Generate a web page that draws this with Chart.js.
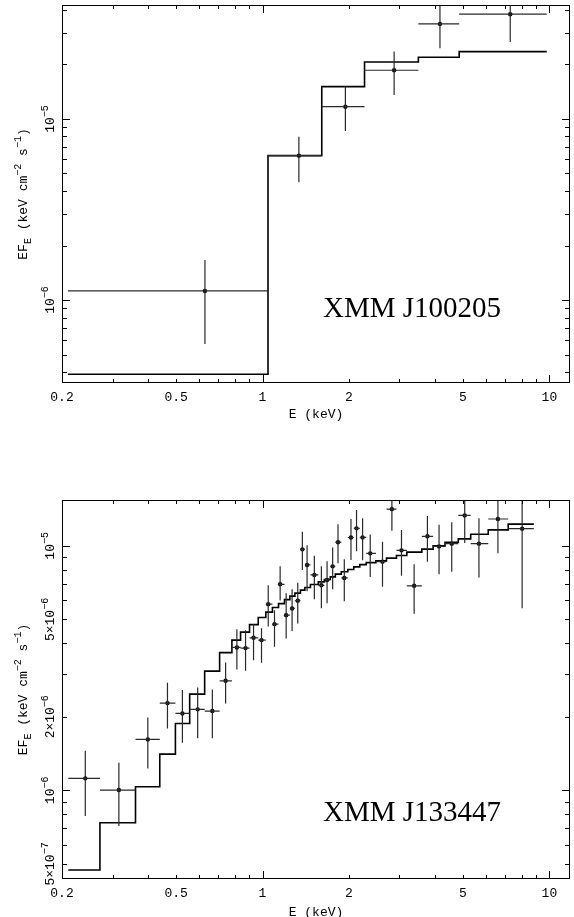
<!DOCTYPE html>
<html>
<head>
<meta charset="utf-8">
<title>XMM spectra</title>
<script src="https://cdn.jsdelivr.net/npm/chart.js@4.4.1/dist/chart.umd.min.js"></script>
<style>
  html, body { margin: 0; padding: 0; background: #fff; }
  #wrap { position: relative; width: 574px; height: 917px; overflow: hidden; }
  canvas { position: absolute; left: 0; }
</style>
</head>
<body>
<div id="wrap">
  <canvas id="topChart" width="574" height="460" style="top:0px"></canvas>
  <canvas id="botChart" width="574" height="457" style="top:460px"></canvas>
</div>
<script>
// ---- shared axis ticks (keV) ----
const xTicks = [0.3, 0.4, 0.5, 0.6, 0.7, 0.8, 0.9, 1, 2, 3, 4, 5, 6, 7, 8, 9, 10];
const xLabelVals = [0.2, 0.5, 1, 2, 5, 10];
const xLabelText = ['0.2', '0.5', '1', '2', '5', '10'];

// ---- XMM J100205 ----
const topEdges = [0.2097, 1.045, 1.609, 2.268, 3.494, 4.848, 9.79];
const topE = [0.630, 1.339, 1.945, 2.876, 4.155, 7.304];
const topFlux = [1.122e-6, 6.27e-6, 1.169e-5, 1.858e-5, 3.35e-5, 3.79e-5];
const topFluxLo = [5.71e-7, 4.47e-6, 8.59e-6, 1.358e-5, 2.46e-5, 2.66e-5];
const topFluxHi = [1.663e-6, 7.98e-6, 1.509e-5, 2.355e-5, 4.5e-5, 4.6e-5];
const topModel = [3.89e-7, 6.27e-6, 1.509e-5, 2.065e-5, 2.193e-5, 2.355e-5];
const topYTicks = [4e-7, 5e-7, 6e-7, 7e-7, 8e-7, 9e-7, 1e-6, 2e-6, 3e-6, 4e-6, 5e-6, 6e-6, 7e-6, 8e-6, 9e-6, 1e-5, 2e-5, 3e-5, 4e-5];
const topYLabelVals = [1e-6, 1e-5];
const topYLabelText = ['10^−6', '10^−5'];

// ---- XMM J133447 ----
const botEdges = [0.2104, 0.2712, 0.3608, 0.4384, 0.4970, 0.5573, 0.6285, 0.7087, 0.7822, 0.8385,
  0.9011, 0.9662, 1.027, 1.083, 1.137, 1.193, 1.246, 1.297, 1.356, 1.405,
  1.469, 1.565, 1.643, 1.723, 1.794, 1.882, 1.983, 2.081, 2.183, 2.299,
  2.485, 2.705, 2.931, 3.185, 3.592, 3.932, 4.328, 4.814, 5.318, 6.122, 7.185, 8.826];
const botE = [0.2411, 0.3157, 0.3983, 0.4663, 0.5257, 0.5943, 0.6686, 0.7436, 0.8140, 0.8727,
  0.9305, 0.9920, 1.047, 1.101, 1.152, 1.209, 1.268, 1.327, 1.377, 1.430,
  1.516, 1.604, 1.679, 1.756, 1.833, 1.928, 2.034, 2.127, 2.233, 2.374,
  2.620, 2.825, 3.051, 3.377, 3.757, 4.125, 4.567, 5.068, 5.682, 6.616, 8.036];
const botFlux = [1.120e-6, 1.003e-6, 1.616e-6, 2.274e-6, 2.064e-6, 2.144e-6, 2.110e-6, 2.806e-6, 3.842e-6, 3.817e-6,
  4.206e-6, 4.116e-6, 5.776e-6, 4.784e-6, 6.961e-6, 5.207e-6, 5.547e-6, 5.970e-6, 9.676e-6, 8.354e-6,
  7.603e-6, 6.896e-6, 7.254e-6, 8.245e-6, 1.035e-5, 7.393e-6, 1.082e-5, 1.179e-5, 1.083e-5, 9.318e-6,
  8.618e-6, 1.413e-5, 9.585e-6, 6.864e-6, 1.094e-5, 9.95e-6, 1.021e-5, 1.332e-5, 1.021e-5, 1.288e-5, 1.176e-5];
const botFluxLo = [7.85e-7, 7.15e-7, 1.230e-6, 1.792e-6, 1.565e-6, 1.632e-6, 1.632e-6, 2.268e-6, 3.124e-6, 3.083e-6,
  3.409e-6, 3.323e-6, 4.683e-6, 3.864e-6, 5.981e-6, 4.182e-6, 4.487e-6, 4.815e-6, 7.970e-6, 6.527e-6,
  6.054e-6, 5.552e-6, 5.819e-6, 6.653e-6, 8.481e-6, 5.930e-6, 8.758e-6, 9.495e-6, 8.725e-6, 7.462e-6,
  6.799e-6, 1.152e-5, 7.541e-6, 5.281e-6, 8.618e-6, 7.648e-6, 7.844e-6, 1.028e-5, 7.426e-6, 9.318e-6, 5.552e-6];
const botFluxHi = [1.452e-6, 1.297e-6, 1.988e-6, 2.754e-6, 2.571e-6, 2.637e-6, 2.588e-6, 3.337e-6, 4.564e-6, 4.521e-6,
  4.784e-6, 4.608e-6, 6.908e-6, 5.459e-6, 8.260e-6, 6.393e-6, 6.653e-6, 7.060e-6, 1.143e-5, 1.005e-5,
  9.120e-6, 8.245e-6, 8.641e-6, 9.85e-6, 1.227e-5, 8.824e-6, 1.288e-5, 1.402e-5, 1.296e-5, 1.114e-5,
  1.040e-5, 1.65e-5, 1.161e-5, 8.416e-6, 1.326e-5, 1.221e-5, 1.248e-5, 1.6e-5, 1.296e-5, 1.7e-5, 1.8e-5];
const botModel = [4.722e-7, 7.372e-7, 1.034e-6, 1.407e-6, 1.878e-6, 2.476e-6, 3.074e-6, 3.660e-6, 4.116e-6, 4.437e-6,
  4.762e-6, 5.096e-6, 5.356e-6, 5.599e-6, 5.802e-6, 6.026e-6, 6.229e-6, 6.406e-6, 6.590e-6, 6.760e-6,
  6.954e-6, 7.126e-6, 7.289e-6, 7.470e-6, 7.663e-6, 7.831e-6, 8.009e-6, 8.206e-6, 8.378e-6, 8.538e-6,
  8.683e-6, 8.907e-6, 9.137e-6, 9.424e-6, 9.694e-6, 1.000e-5, 1.035e-5, 1.068e-5, 1.116e-5, 1.162e-5, 1.227e-5];
const botYTicks = [5e-7, 6e-7, 7e-7, 8e-7, 9e-7, 1e-6, 2e-6, 3e-6, 4e-6, 5e-6, 6e-6, 7e-6, 8e-6, 9e-6, 1e-5];
const botYLabelVals = [5e-7, 1e-6, 2e-6, 5e-6, 1e-5];
const botYLabelText = ['5×10^−7', '10^−6', '2×10^−6', '5×10^−6', '10^−5'];

const MONO = '"Liberation Mono", "DejaVu Sans Mono", monospace';

function drawRich(ctx, parts, x, y, size, align) {
  const small = Math.round(size * 0.75);
  const fontOf = m => (m ? small : size) + 'px ' + MONO;
  let w = 0;
  parts.forEach(([t, m]) => { ctx.font = fontOf(m); w += ctx.measureText(t).width; });
  let cx = align === 'center' ? x - w / 2 : x;
  ctx.textAlign = 'left';
  ctx.textBaseline = 'alphabetic';
  parts.forEach(([t, m]) => {
    ctx.font = fontOf(m);
    ctx.fillText(t, cx, y + (m === 1 ? -size * 0.5 : m === -1 ? size * 0.3 : 0));
    cx += ctx.measureText(t).width;
  });
}

function isDecade(v) {
  const l = Math.log10(v);
  return Math.abs(l - Math.round(l)) < 1e-6;
}

// error bars, drawn through the chart scales
const errorBars = {
  id: 'errorBars',
  afterDatasetsDraw(chart, args, o) {
    const { ctx, chartArea: a, scales: { x, y } } = chart;
    ctx.save();
    ctx.beginPath();
    ctx.rect(a.left, a.top, a.right - a.left, a.bottom - a.top);
    ctx.clip();
    ctx.strokeStyle = '#2a2a2a';
    ctx.lineWidth = 1.2;
    ctx.beginPath();
    o.e.forEach((e, i) => {
      const px = x.getPixelForValue(e), py = y.getPixelForValue(o.f[i]);
      ctx.moveTo(x.getPixelForValue(o.edges[i]), py);
      ctx.lineTo(x.getPixelForValue(o.edges[i + 1]), py);
      ctx.moveTo(px, y.getPixelForValue(o.lo[i]));
      ctx.lineTo(px, y.getPixelForValue(o.hi[i]));
    });
    ctx.stroke();
    ctx.restore();
  }
};

// PGPLOT style box, inward ticks, labels
const pgAxes = {
  id: 'pgAxes',
  afterDraw(chart, args, o) {
    const { ctx, chartArea: a, scales: { x, y } } = chart;
    ctx.save();
    ctx.strokeStyle = '#000';
    ctx.lineWidth = 1;
    ctx.strokeRect(a.left + 0.5, a.top + 0.5, a.right - a.left - 1, a.bottom - a.top - 1);
    ctx.beginPath();
    xTicks.forEach(v => {
      const px = Math.round(x.getPixelForValue(v)) + 0.5;
      const len = isDecade(v) ? 8 : 4;
      ctx.moveTo(px, a.bottom); ctx.lineTo(px, a.bottom - len);
      ctx.moveTo(px, a.top); ctx.lineTo(px, a.top + len);
    });
    o.yTicks.forEach(v => {
      const py = Math.round(y.getPixelForValue(v)) + 0.5;
      const len = isDecade(v) ? 8 : 5;
      ctx.moveTo(a.left, py); ctx.lineTo(a.left + len, py);
      ctx.moveTo(a.right, py); ctx.lineTo(a.right - len, py);
    });
    ctx.stroke();

    ctx.fillStyle = '#000';
    ctx.font = '13px ' + MONO;
    ctx.textAlign = 'center';
    ctx.textBaseline = 'alphabetic';
    xLabelVals.forEach((v, i) => {
      ctx.fillText(xLabelText[i], x.getPixelForValue(v), a.bottom + 18);
    });
    ctx.fillText('E (keV)', (a.left + a.right) / 2, a.bottom + o.xTitleGap);

    o.yLabelVals.forEach((v, i) => {
      const [base, ex] = o.yLabelText[i].split('^');
      ctx.save();
      ctx.translate(a.left - 8, y.getPixelForValue(v));
      ctx.rotate(-Math.PI / 2);
      drawRich(ctx, [[base, 0], [ex, 1]], 0, 0, 13, 'center');
      ctx.restore();
    });

    ctx.save();
    ctx.translate(27, (a.top + a.bottom) / 2);
    ctx.rotate(-Math.PI / 2);
    drawRich(ctx, [['EF', 0], ['E', -1], [' (keV cm', 0], ['−2', 1], [' s', 0], ['−1', 1], [')', 0]], 0, 0, 13, 'center');
    ctx.restore();

    ctx.font = '29px "Liberation Serif", "DejaVu Serif", serif';
    ctx.textAlign = 'left';
    ctx.fillText(o.name, o.nameX, o.nameY);
    ctx.restore();
  }
};

function makePanel(id, d) {
  const model = d.model.map((m, i) => ({ x: d.edges[i], y: m }));
  model.push({ x: d.edges[d.edges.length - 1], y: d.model[d.model.length - 1] });
  const pts = d.e.map((e, i) => ({ x: e, y: d.f[i] }));
  return new Chart(document.getElementById(id), {
    type: 'scatter',
    data: {
      datasets: [
        { data: model, showLine: true, stepped: true, borderColor: '#000', borderWidth: 1.6, pointRadius: 0, fill: false },
        { data: pts, pointRadius: 2.2, pointBackgroundColor: '#000', pointBorderWidth: 0 }
      ]
    },
    options: {
      responsive: false,
      animation: false,
      layout: { padding: d.pad },
      scales: {
        x: { type: 'logarithmic', min: 0.2, max: 11.8, display: false },
        y: { type: 'logarithmic', min: d.ymin, max: d.ymax, display: false }
      },
      plugins: {
        legend: { display: false },
        tooltip: { enabled: false },
        errorBars: { e: d.e, f: d.f, lo: d.lo, hi: d.hi, edges: d.edges },
        pgAxes: { yTicks: d.yTicks, yLabelVals: d.yLabelVals, yLabelText: d.yLabelText,
                  name: d.name, nameX: 323, nameY: d.nameY, xTitleGap: d.xTitleGap }
      }
    },
    plugins: [errorBars, pgAxes]
  });
}

makePanel('topChart', {
  edges: topEdges, e: topE, f: topFlux, lo: topFluxLo, hi: topFluxHi, model: topModel,
  ymin: 3.48e-7, ymax: 4.26e-5, yTicks: topYTicks, yLabelVals: topYLabelVals, yLabelText: topYLabelText,
  pad: { left: 62, right: 2, top: 5, bottom: 77 }, name: 'XMM J100205', nameY: 317, xTitleGap: 35
});

makePanel('botChart', {
  edges: botEdges, e: botE, f: botFlux, lo: botFluxLo, hi: botFluxHi, model: botModel,
  ymin: 4.34e-7, ymax: 1.54e-5, yTicks: botYTicks, yLabelVals: botYLabelVals, yLabelText: botYLabelText,
  pad: { left: 62, right: 2, top: 40, bottom: 38 }, name: 'XMM J133447', nameY: 361, xTitleGap: 37
});
</script>
</body>
</html>
